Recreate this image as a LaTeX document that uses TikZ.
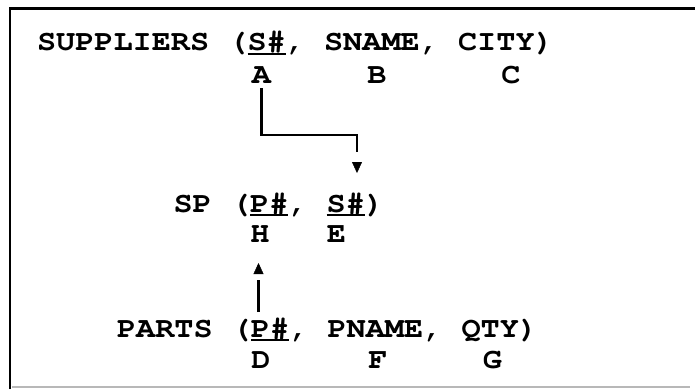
\documentclass[tikz,border=0pt]{standalone}
\usepackage[T1,TU]{fontenc}
\usepackage{graphicx}
\usetikzlibrary{arrows.meta}
\newcommand\courfont{\fontencoding{T1}\fontfamily{pcr}\fontseries{b}\fontshape{n}\fontsize{29}{34}\selectfont}
\newcommand\wide[1]{\scalebox{1.1}[1]{#1}}
\tikzset{
  txt/.style={inner sep=0pt, outer sep=0pt, anchor=base west, font=\courfont},
  lbl/.style={inner sep=0pt, outer sep=0pt, anchor=base, font=\courfont},
  uline/.style={line width=2pt},
  conn/.style={line width=2.6pt},
  tipd/.style={line width=0.4pt, -{Triangle[length=11pt,width=10pt]}},
  frame/.style={line width=2.8pt},
}
\begin{document}
\begin{tikzpicture}[x=1pt,y=-1pt]
\useasboundingbox (0,0) rectangle (695,389);
% frame
\draw[frame] (10,389) -- (10,8.5) -- (695,8.5);
\draw[line width=1.4pt, black!28] (12,387) -- (690,387);
% row 1
\node[txt] (sup) at (37,50) {\wide{SUPPLIERS (}};
\node[txt] (supS) at (sup.base east) {\wide{S\#}};
\node[txt] (supR) at (supS.base east) {\wide{, SNAME, CITY)}};
\draw[uline] ([yshift=-4pt]supS.base west) -- ([yshift=-4pt]supS.base east);
\node[lbl] (A) at (261.5,83) {\wide{A}};
\node[lbl] (B) at (377,83) {\wide{B}};
\node[lbl] (C) at (511,83) {\wide{C}};
% row 2
\node[txt] (sp) at (173.6,212) {\wide{SP (}};
\node[txt] (spP) at (sp.base east) {\wide{P\#}};
\node[txt] (spM) at (spP.base east) {\wide{,\ \null}};
\node[txt] (spS) at (spM.base east) {\wide{S\#}};
\node[txt] (spR) at (spS.base east) {\wide{)}};
\draw[uline] ([yshift=-3pt]spP.base west) -- ([yshift=-3pt]spP.base east);
\draw[uline] ([yshift=-3pt]spS.base west) -- ([yshift=-3pt]spS.base east);
\node[lbl] (H) at (260,242) {\wide{H}};
\node[lbl] (E) at (336.5,242) {\wide{E}};
% row 3
\node[txt] (pa) at (117,337) {\wide{PARTS (}};
\node[txt] (paP) at (pa.base east) {\wide{P\#}};
\node[txt] (paR) at (paP.base east) {\wide{, PNAME, QTY)}};
\draw[uline] ([yshift=-2.5pt]paP.base west) -- ([yshift=-2.5pt]paP.base east);
\node[lbl] (D) at (261,368) {\wide{D}};
\node[lbl] (F) at (378,368) {\wide{F}};
\node[lbl] (G) at (492.5,368) {\wide{G}};
% connectors
\coordinate (k1) at (357,135);
\coordinate (k2) at (357,152);
\coordinate (k3) at (357,162);
\coordinate (k4) at (357,173);
\draw[conn] ([yshift=-5pt]A.south) |- (k1) -- (k2);
\draw[tipd] (k3) -- (k4);
\coordinate (m1) at (258.5,312);
\coordinate (m2) at (258.5,280);
\coordinate (m3) at (258.5,273);
\coordinate (m4) at (258.5,263);
\draw[conn] (m1) -- (m2);
\draw[tipd] (m3) -- (m4);
\end{tikzpicture}
\end{document}
